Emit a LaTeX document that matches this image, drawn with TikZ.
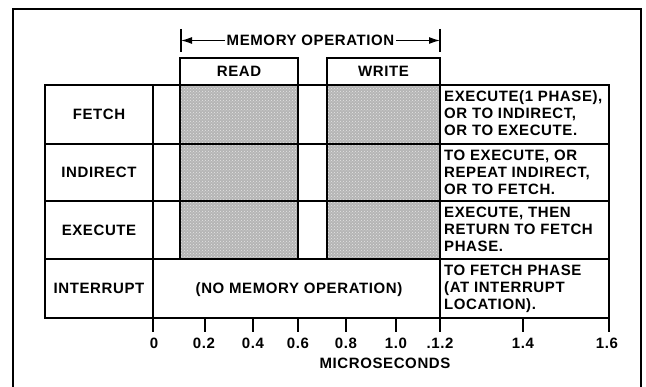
\documentclass[tikz,border=0pt]{standalone}
\usepackage{fontspec}
\setmainfont{Liberation Sans}
\newfontfamily\lblfont{Liberation Sans}[LetterSpace=4]
\usetikzlibrary{patterns,arrows.meta}
\newcommand{\fr}{\rule{0pt}{12pt}}
\begin{document}
\begin{tikzpicture}[x=1pt,y=-1pt,
  lbl/.style={font=\lblfont\bfseries\fontsize{15}{17}\selectfont, inner sep=0pt},
  desc/.style={lbl, align=left, anchor=north west},
  tick/.style={lbl, anchor=base},
  gridline/.style={line width=1.6pt},
  headbox/.style={lbl, draw, line width=1.6pt, minimum height=27pt},
  hatch/.style={fill=gray!58, postaction={pattern=crosshatch dots, pattern color=white!80!gray}},
  memarrow/.style={line width=1.3pt, -{Latex[length=11pt,width=7pt]}}
]
\useasboundingbox (0,0) rectangle (646,387);
% outer frame (open at bottom)
\draw[line width=1.8pt] (13,387) -- (13,9) -- (641,9) -- (641,387);

% hatched memory areas
\path[hatch] (180,85) rectangle (298,259);
\path[hatch] (327,85) rectangle (440,259);

% table
\draw[gridline] (45,85) rectangle (609,318);
\foreach \yy in {144,201,259} \draw[gridline] (45,\yy) -- (609,\yy);
\draw[gridline] (153,85) -- (153,332);
\foreach \xx in {180,298,327} \draw[gridline] (\xx,85) -- (\xx,259);
\draw[gridline] (440,85) -- (440,332);
\draw[gridline] (609,85) -- (609,332);
\foreach \xx in {205,253,298,346,396,523} \draw[gridline] (\xx,318) -- (\xx,332);

% header boxes
\node[headbox, minimum width=118pt] (read) at (239,71.5) {READ};
\node[headbox, minimum width=113pt] (write) at (383.5,71.5) {WRITE};

% memory operation span
\coordinate (lt) at (181,29); \coordinate (lb) at (181,52);
\coordinate (rt) at (440,29); \coordinate (rb) at (440,52);
\draw[line width=1.3pt] (lt) -- (lb);
\draw[line width=1.3pt] (rt) -- (rb);
\node[lbl, inner xsep=2pt] (memop) at (310.5,40.5) {MEMORY OPERATION};
\coordinate (la) at (181,40.5);
\coordinate (ra) at (440,40.5);
\draw[memarrow] (memop.west) -- (la);
\draw[memarrow] (memop.east) -- (ra);

% row labels
\node[lbl] (fetch) at (99,114.5) {FETCH};
\node[lbl] (indirect) at (99,172.5) {INDIRECT};
\node[lbl] (execute) at (99,230) {EXECUTE};
\node[lbl] (interrupt) at (99,288.5) {INTERRUPT};
\node[lbl, anchor=base] (nomem) at (299,294) {(NO MEMORY OPERATION)};

% descriptions
\node[desc] (d1) at (444,89) {\fr EXECUTE(1 PHASE),\\OR TO INDIRECT,\\OR TO EXECUTE.};
\node[desc] (d2) at (444,148) {\fr TO EXECUTE, OR\\REPEAT INDIRECT,\\OR TO FETCH.};
\node[desc] (d3) at (444,205) {\fr EXECUTE, THEN\\RETURN TO FETCH\\PHASE.};
\node[desc] (d4) at (444,263) {\fr TO FETCH PHASE\\(AT INTERRUPT\\LOCATION).};

% axis labels
\node[tick] (t0) at (154,349) {0};
\node[tick] (t2) at (204,349) {0.2};
\node[tick] (t4) at (253,349) {0.4};
\node[tick] (t6) at (298,349) {0.6};
\node[tick] (t8) at (346,349) {0.8};
\node[tick] (t10) at (396,349) {1.0};
\node[tick] (t12) at (440,349) {.1.2};
\node[tick] (t14) at (523,349) {1.4};
\node[tick] (t16) at (607,349) {1.6};
\node[tick] (micro) at (385,369) {MICROSECONDS};
\end{tikzpicture}
\end{document}
